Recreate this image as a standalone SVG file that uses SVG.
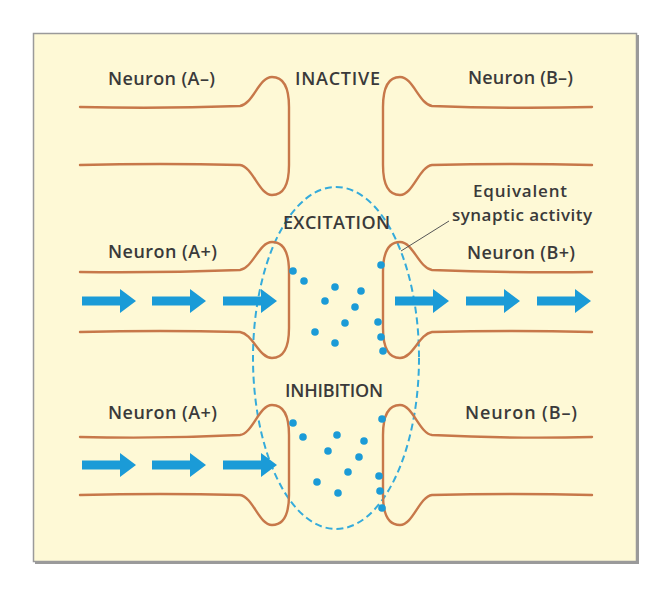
<svg xmlns="http://www.w3.org/2000/svg" xmlns:xlink="http://www.w3.org/1999/xlink" width="670" height="595" viewBox="0 0 670 595">
<style>
  .neuron { fill: none; stroke: #C7784A; stroke-width: 2.4; stroke-linecap: round; stroke-linejoin: round; }
  .lbl { font-family: "Open Sans", "Noto Sans", "Liberation Sans", sans-serif; font-size: 18px; font-weight: 600; fill: #3a3a3a; text-anchor: middle; }
  .note { font-size: 17px; }
  .arrow { fill: #1B9BD7; }
  .dot { fill: #1B9BD7; }
  .zone { fill: none; stroke: #35ABDB; stroke-width: 2; stroke-dasharray: 7 4; }
  .leader { stroke: #555; stroke-width: 1; fill: none; }
</style>
<defs>
  <polygon id="arr" points="0,-4.5 38,-4.5 38,-12 54,0 38,12 38,4.5 0,4.5"/>
</defs>
<rect width="670" height="595" fill="#ffffff"/>
<g id="frame">
  <rect x="35" y="35" width="604" height="529" fill="#9a9a9a"/>
  <rect x="33.5" y="33.5" width="603" height="528" fill="#FEF9D6" stroke="#9a9a9a" stroke-width="1.5"/>
</g>
<g id="zone">
  <ellipse class="zone" cx="336" cy="358" rx="83" ry="171"/>
</g>
<g id="neuron-A-minus">
  <path class="neuron" d="M80,107 Q160,109 240,106 C253,104 259,77 272,77 C283,77 289,87 289,107 L289,165 C289,185 283,195 272,195 C259,195 253,167 240,165 Q160,163 80,165"/>
  <text class="lbl" x="161.5" y="85" textLength="107" lengthAdjust="spacing">Neuron (A–)</text>
</g>
<g id="neuron-B-minus">
  <path class="neuron" d="M592,107 Q512,109 432,106 C419,104 413,77 400,77 C389,77 383,87 383,107 L383,165 C383,185 389,195 400,195 C413,195 419,167 432,165 Q512,163 592,165"/>
  <text class="lbl" x="520.5" y="84" textLength="105" lengthAdjust="spacing">Neuron (B–)</text>
</g>
<g id="neuron-A-plus-1">
  <path class="neuron" d="M80,272 Q160,273 240,270 C253,268 259,242 272,242 C283,242 289,252 289,272 L289,328 C289,348 283,358 272,358 C259,358 253,334 240,332 Q160,330 80,332"/>
  <text class="lbl" x="162.5" y="258" textLength="109" lengthAdjust="spacing">Neuron (A+)</text>
</g>
<g id="neuron-B-plus">
  <path class="neuron" d="M592,272 Q512,273 432,270 C419,268 413,242 400,242 C389,242 383,252 383,272 L383,328 C383,348 389,358 400,358 C413,358 419,334 432,332 Q512,330 592,332"/>
  <text class="lbl" x="521" y="259" textLength="108" lengthAdjust="spacing">Neuron (B+)</text>
</g>
<g id="neuron-A-plus-2">
  <path class="neuron" d="M80,437 Q160,439 240,435 C253,433 259,405 272,405 C283,405 289,415 289,435 L289,495 C289,515 283,525 272,525 C259,525 253,497 240,495 Q160,493 80,495"/>
  <text class="lbl" x="162.5" y="419" textLength="109" lengthAdjust="spacing">Neuron (A+)</text>
</g>
<g id="neuron-B-minus-2">
  <path class="neuron" d="M592,437 Q512,439 432,435 C419,433 413,405 400,405 C389,405 383,415 383,435 L383,495 C383,515 389,525 400,525 C413,525 419,497 432,495 Q512,493 592,495"/>
  <text class="lbl" x="521" y="419" textLength="112" lengthAdjust="spacing">Neuron  (B–)</text>
</g>
<g id="labels">
  <text class="lbl" x="337.5" y="85" textLength="85" lengthAdjust="spacing">INACTIVE</text>
  <text class="lbl" x="336.5" y="229" textLength="107" lengthAdjust="spacing">EXCITATION</text>
  <text class="lbl" x="334" y="397" textLength="98" lengthAdjust="spacing">INHIBITION</text>
  <text class="lbl note" x="520" y="197" textLength="94" lengthAdjust="spacing">Equivalent</text>
  <text class="lbl note" x="522" y="221" textLength="140" lengthAdjust="spacing">synaptic activity</text>
</g>
<g id="connectors">
  <line class="leader" x1="401" y1="251" x2="449" y2="221"/>
  <use href="#arr" xlink:href="#arr" class="arrow" x="82" y="301"/>
  <use href="#arr" xlink:href="#arr" class="arrow" x="152" y="301"/>
  <use href="#arr" xlink:href="#arr" class="arrow" x="223" y="301"/>
  <use href="#arr" xlink:href="#arr" class="arrow" x="395" y="301"/>
  <use href="#arr" xlink:href="#arr" class="arrow" x="466" y="301"/>
  <use href="#arr" xlink:href="#arr" class="arrow" x="537" y="301"/>
  <use href="#arr" xlink:href="#arr" class="arrow" x="82" y="465"/>
  <use href="#arr" xlink:href="#arr" class="arrow" x="152" y="465"/>
  <use href="#arr" xlink:href="#arr" class="arrow" x="223" y="465"/>
</g>
<g id="transmitter-excitation">
  <circle class="dot" cx="293" cy="271" r="3.8"/>
  <circle class="dot" cx="304" cy="281" r="3.8"/>
  <circle class="dot" cx="335" cy="287" r="3.8"/>
  <circle class="dot" cx="361" cy="291" r="3.8"/>
  <circle class="dot" cx="325" cy="301" r="3.8"/>
  <circle class="dot" cx="355" cy="307" r="3.8"/>
  <circle class="dot" cx="345" cy="323" r="3.8"/>
  <circle class="dot" cx="315" cy="332" r="3.8"/>
  <circle class="dot" cx="335" cy="343" r="3.8"/>
  <circle class="dot" cx="381" cy="265" r="3.8"/>
  <circle class="dot" cx="378" cy="322" r="3.8"/>
  <circle class="dot" cx="381" cy="337" r="3.8"/>
  <circle class="dot" cx="383" cy="351" r="3.8"/>
</g>
<g id="transmitter-inhibition">
  <circle class="dot" cx="293" cy="423" r="3.8"/>
  <circle class="dot" cx="303" cy="437" r="3.8"/>
  <circle class="dot" cx="337" cy="435" r="3.8"/>
  <circle class="dot" cx="364" cy="441" r="3.8"/>
  <circle class="dot" cx="328" cy="451" r="3.8"/>
  <circle class="dot" cx="359" cy="457" r="3.8"/>
  <circle class="dot" cx="348" cy="472" r="3.8"/>
  <circle class="dot" cx="317" cy="482" r="3.8"/>
  <circle class="dot" cx="338" cy="493" r="3.8"/>
  <circle class="dot" cx="382" cy="419" r="3.8"/>
  <circle class="dot" cx="379" cy="476" r="3.8"/>
  <circle class="dot" cx="380" cy="491" r="3.8"/>
  <circle class="dot" cx="382" cy="508" r="3.8"/>
</g>
</svg>
